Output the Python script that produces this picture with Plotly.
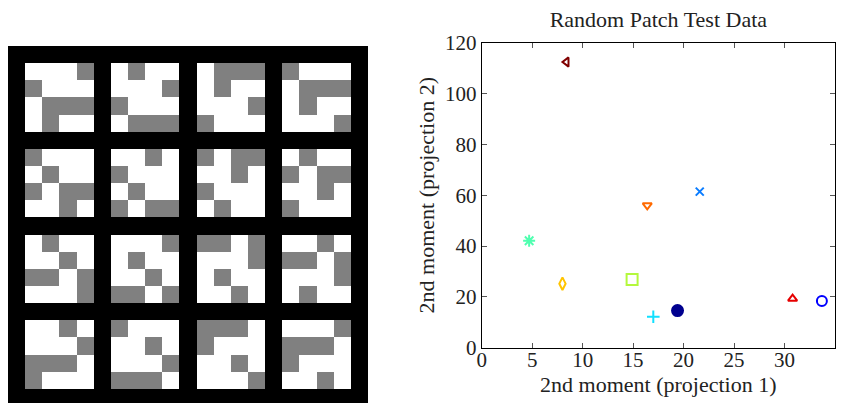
import plotly.graph_objects as go

# 16 random 4x4 patches (1 = gray pixel, 0 = white pixel), row-major order of the 4x4 montage
patches = [
    [[0,0,0,1],[1,0,0,0],[0,1,1,1],[0,1,0,0]],
    [[0,1,0,0],[0,0,0,1],[1,0,0,0],[0,1,1,1]],
    [[0,1,1,1],[0,1,0,0],[0,0,0,1],[1,0,0,0]],
    [[1,0,0,0],[0,1,1,1],[0,1,0,0],[0,0,0,1]],
    [[1,0,0,0],[0,1,0,0],[1,0,1,1],[0,0,1,0]],
    [[0,0,1,0],[1,0,0,0],[0,1,0,0],[1,0,1,1]],
    [[1,0,1,1],[0,0,1,0],[1,0,0,0],[0,1,0,0]],
    [[0,1,0,0],[1,0,1,1],[0,0,1,0],[1,0,0,0]],
    [[0,1,0,0],[0,0,1,0],[1,1,0,1],[0,0,0,1]],
    [[0,0,0,1],[0,1,0,0],[0,0,1,0],[1,1,0,1]],
    [[1,1,0,1],[0,0,0,1],[0,1,0,0],[0,0,1,0]],
    [[0,0,1,0],[1,1,0,1],[0,0,0,1],[0,1,0,0]],
    [[0,0,1,0],[0,0,0,1],[1,1,1,0],[1,0,0,0]],
    [[1,0,0,0],[0,0,1,0],[0,0,0,1],[1,1,1,0]],
    [[1,1,1,0],[1,0,0,0],[0,0,1,0],[0,0,0,1]],
    [[0,0,0,1],[1,1,1,0],[1,0,0,0],[0,0,1,0]],
]

# scatter data: one point per class
proj1 = [8.4, 21.6, 16.4, 4.7, 8.0, 14.9, 17.0, 19.4, 30.8, 33.7]
proj2 = [112.4, 61.4, 56.0, 42.1, 25.2, 26.8, 12.2, 14.6, 19.3, 18.4]
symbols = ["triangle-left-open", "x-thin-open", "triangle-down-open", "asterisk-open",
           "diamond-tall-open", "square-open", "cross-thin-open", "circle",
           "triangle-up-open", "circle-open"]
colors = ["#800000", "#0a7cff", "#ff6a00", "#50ffb0", "#ffc400", "#b4f83c",
          "#10e0ff", "#00008f", "#e60000", "#0000ff"]
sizes = [8, 8, 8, 10, 9, 11, 9, 11, 8, 10]

# build montage: 0 black border, 1 gray, 2 white
N = 21
img = [[0] * N for _ in range(N)]
for k, p in enumerate(patches):
    pr, pc = divmod(k, 4)
    for r in range(4):
        for c in range(4):
            img[1 + pr * 5 + r][1 + pc * 5 + c] = 1 if p[r][c] else 2

fig = go.Figure()
fig.add_trace(go.Heatmap(
    z=img, xaxis="x2", yaxis="y2", zmin=0, zmax=2, showscale=False,
    colorscale=[[0, "#000000"], [0.333, "#000000"], [0.333, "#808080"],
                [0.667, "#808080"], [0.667, "#ffffff"], [1, "#ffffff"]],
    hoverinfo="skip"))

for x, y, s, c, sz in zip(proj1, proj2, symbols, colors, sizes):
    fig.add_trace(go.Scatter(
        x=[x], y=[y], mode="markers", xaxis="x", yaxis="y",
        marker=dict(symbol=s, color=c, size=sz, line=dict(color=c, width=2)),
        showlegend=False))

W, H = 845, 403
font_family = "Liberation Serif"
axis_common = dict(showline=True, linecolor="black", linewidth=1, mirror="ticks",
                   ticks="inside", ticklen=5, tickcolor="#555", showgrid=False,
                   zeroline=False, automargin=False,
                   tickfont=dict(family=font_family, size=21, color="#222"))

fig.update_layout(
    width=W, height=H, margin=dict(l=0, r=0, t=0, b=0, autoexpand=False),
    paper_bgcolor="white", plot_bgcolor="white",
    font=dict(family=font_family, color="#222"),
    xaxis=dict(domain=[481.7 / W, 835 / W], range=[0, 35], tickvals=list(range(0, 36, 5)),
               ticklabelstandoff=-7,
               title=dict(text="2nd moment (projection 1)", font=dict(size=22, family=font_family), standoff=4),
               **axis_common),
    yaxis=dict(domain=[(H - 347.7) / H, (H - 42.7) / H], range=[0, 120], tickvals=list(range(0, 121, 20)),
               title=dict(text="2nd moment (projection 2)", font=dict(size=22, family=font_family), standoff=4),
               **axis_common),
    xaxis2=dict(domain=[8 / W, 368 / W], range=[-0.5, 20.5], visible=False, fixedrange=True, automargin=False),
    yaxis2=dict(domain=[0, (H - 46) / H], range=[20.5 - 3 / (360 / 21), -0.5], visible=False,
                fixedrange=True, automargin=False),
    title=dict(text="Random Patch Test Data", x=(481.7 + 835) / 2 / W, xanchor="center",
               y=(H - 19) / H, yanchor="middle", font=dict(size=22, family=font_family, color="#222")),
)

fig.write_html("out.html")
